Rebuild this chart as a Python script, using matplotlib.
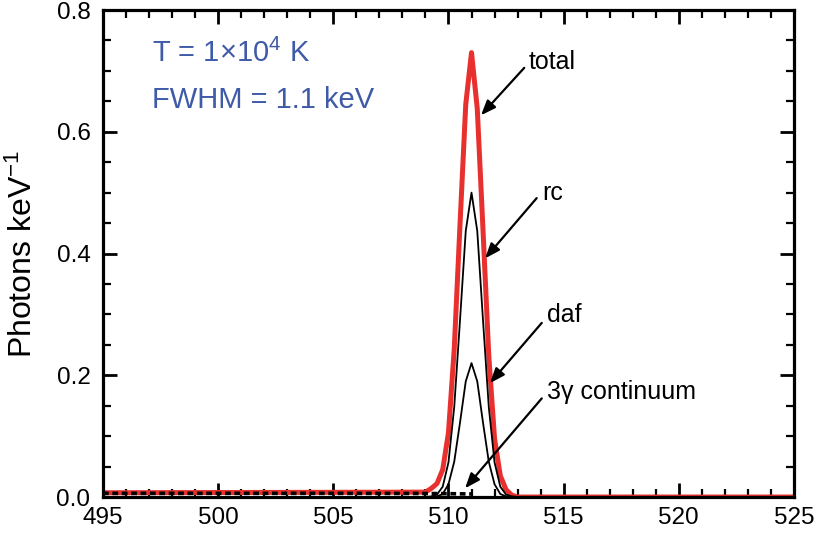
import matplotlib
matplotlib.use("Agg")
import matplotlib.pyplot as plt
from matplotlib.ticker import MultipleLocator

plt.rcParams["font.family"] = ["Liberation Sans", "DejaVu Sans"]
plt.rcParams["mathtext.fontset"] = "custom"
plt.rcParams["mathtext.rm"] = "Liberation Sans"
plt.rcParams["mathtext.it"] = "Liberation Sans:italic"

# energy grid (keV)
energy = [495.0, 509.0, 509.25, 509.5, 509.75, 510.0, 510.25, 510.5, 510.75,
          511.0, 511.25, 511.5, 511.75, 512.0, 512.25, 512.5, 512.75, 513.0, 525.0]
total = [0.007, 0.008, 0.014, 0.022, 0.045, 0.106, 0.243, 0.447, 0.645,
         0.730, 0.638, 0.438, 0.232, 0.096, 0.035, 0.012, 0.003, 0.0, 0.0]
rc = [0.0, 0.0, 0.001, 0.004, 0.017, 0.057, 0.148, 0.290, 0.437,
      0.500, 0.437, 0.290, 0.148, 0.057, 0.017, 0.004, 0.001, 0.0, 0.0]
daf = [0.0, 0.0, 0.0, 0.001, 0.005, 0.021, 0.058, 0.122, 0.190,
       0.220, 0.190, 0.122, 0.058, 0.021, 0.005, 0.001, 0.0, 0.0, 0.0]
cont_energy = [495.0, 500.0, 505.0, 509.0, 510.0, 511.0]
continuum = [0.006, 0.006, 0.006, 0.0058, 0.0055, 0.005]

# annotation labels: text position, arrow tail, arrow head
labels = ["total", "rc", "daf", "3\u03b3 continuum"]
label_xy = [(513.5, 0.715), (514.09, 0.499), (514.29, 0.299), (514.29, 0.173)]
tail_xy = [(513.29, 0.705), (513.83, 0.491), (514.05, 0.286), (514.05, 0.162)]
head_xy = [(511.41, 0.627), (511.59, 0.392), (511.80, 0.187), (510.72, 0.0143)]

fig = plt.figure(figsize=(8.16, 5.35), dpi=100)
ax = fig.add_axes([0.1262, 0.0710, 0.9730 - 0.1262, 0.9813 - 0.0710])

ax.plot(energy, total, color="#e8302e", lw=3.6, zorder=2)
ax.plot(energy, rc, color="black", lw=1.3, zorder=3)
ax.plot(energy, daf, color="black", lw=1.3, zorder=3)
ax.plot(cont_energy, continuum, color="black", lw=2.6, ls=(0, (1.6, 1.0)), zorder=3)

for txt, t, tl, hd in zip(labels, label_xy, tail_xy, head_xy):
    ax.annotate("", xy=hd, xytext=tl,
                arrowprops=dict(arrowstyle="-|>,head_length=0.9,head_width=0.35",
                                color="black", lw=1.6, shrinkA=0, shrinkB=0))
    ax.text(t[0], t[1], txt, fontsize=18, ha="left", va="center")

blue = "#3f5ba8"
ax.text(497.13, 0.729, r"T = 1$\times$10$^{4}$ K", color=blue, fontsize=21,
        ha="left", va="center")
ax.text(497.13, 0.652, "FWHM = 1.1 keV", color=blue, fontsize=21,
        ha="left", va="center")

ax.set_xlim(495, 525)
ax.set_ylim(0, 0.8)
ax.xaxis.set_major_locator(MultipleLocator(5))
ax.xaxis.set_minor_locator(MultipleLocator(1))
ax.yaxis.set_major_locator(MultipleLocator(0.2))
ax.yaxis.set_minor_locator(MultipleLocator(0.05))
ax.yaxis.set_major_formatter(plt.FuncFormatter(lambda v, p: f"{v:.1f}"))
ax.tick_params(which="both", direction="in", top=True, right=True)
ax.tick_params(which="major", length=10, width=2.0, labelsize=17.5)
ax.tick_params(which="minor", length=5.5, width=1.6)
ax.tick_params(axis="x", which="major", pad=7)
ax.tick_params(axis="y", which="major", pad=9)
for s in ax.spines.values():
    s.set_linewidth(2.3)
    s.set_zorder(4)

ax.set_ylabel("Photons keV$^{-1}$", fontsize=23)
ax.yaxis.set_label_coords(-0.093, 0.5)

fig.savefig("out.png", dpi=100)
